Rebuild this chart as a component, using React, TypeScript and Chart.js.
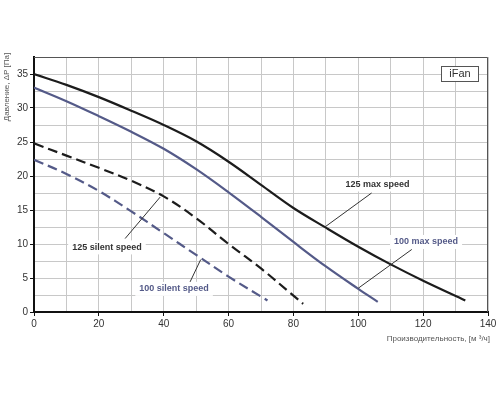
import React, { useEffect, useRef } from "react";
import { Chart, registerables } from "chart.js";

Chart.register(...registerables);

// Data (x: m³/h, y: Pa)
const max125X = [0, 10, 20, 30, 40, 50, 60, 70, 80, 90, 100, 110, 120, 133];
const max125Y = [35, 33.4, 31.6, 29.6, 27.5, 25.1, 22.1, 18.7, 15.3, 12.4, 9.6, 7.0, 4.6, 1.7];
const max100X = [0, 10, 20, 30, 40, 50, 60, 70, 80, 90, 100, 106];
const max100Y = [33, 31, 28.8, 26.5, 24, 21, 17.6, 14, 10.3, 6.7, 3.4, 1.5];
const silent125X = [0, 10, 20, 30, 40, 50, 60, 70, 80, 83];
const silent125Y = [24.8, 23, 21.2, 19.3, 17, 13.8, 10, 6.4, 2.4, 1.2];
const silent100X = [0, 10, 20, 30, 40, 50, 60, 72];
const silent100Y = [22.4, 20.3, 17.8, 14.8, 11.6, 8.4, 5.2, 1.7];

const seriesLabels = ["125 max speed", "100 max speed", "125 silent speed", "100 silent speed"];
const seriesColors = ["#1c1c1c", "#545a88", "#1c1c1c", "#545a88"];
const labelColors = ["#333333", "#545a88", "#333333", "#545a88"];
// annotation: tip on curve, elbow end of leader, text centre (data units)
const tipX = [89.7, 100, 38.9, 51.4];
const tipY = [12.5, 3.5, 16.9, 7.7];
const endX = [104.1, 116.5, 28.1, 48.1];
const endY = [17.5, 9.2, 10.8, 4.4];
const textX = [105.9, 120.9, 22.5, 43.2];
const textY = [18.75, 10.3, 9.5, 3.4];

const xTitle = "Производительность, [м ³/ч]";
const yTitle = "Давление, ΔP [Па]";
const badge = "iFan";

const toPts = (xs: number[], ys: number[]) => xs.map((x, i) => ({ x, y: ys[i] }));

const FONT = "'Liberation Sans', Arial, sans-serif";

const decorPlugin = {
  id: "decor",
  beforeDatasetsDraw(chart: any) {
    const { ctx, chartArea: a } = chart;
    ctx.save();
    ctx.strokeStyle = "#555";
    ctx.lineWidth = 1;
    ctx.beginPath();
    ctx.moveTo(a.left, a.top + 0.5);
    ctx.lineTo(a.right - 0.5, a.top + 0.5);
    ctx.lineTo(a.right - 0.5, a.bottom);
    ctx.stroke();
    ctx.restore();
  },
  afterDatasetsDraw(chart: any) {
    const { ctx, chartArea: a, scales } = chart;
    const xs = scales.x;
    const ys = scales.y;
    ctx.save();
    // leaders
    for (let i = 0; i < seriesLabels.length; i++) {
      ctx.strokeStyle = "#333";
      ctx.lineWidth = 1;
      ctx.beginPath();
      ctx.moveTo(xs.getPixelForValue(tipX[i]), ys.getPixelForValue(tipY[i]));
      ctx.lineTo(xs.getPixelForValue(endX[i]), ys.getPixelForValue(endY[i]));
      ctx.stroke();
    }
    ctx.font = `bold 9px ${FONT}`;
    ctx.textAlign = "center";
    ctx.textBaseline = "middle";
    for (let i = 0; i < seriesLabels.length; i++) {
      const tx = xs.getPixelForValue(textX[i]);
      const ty = ys.getPixelForValue(textY[i]);
      const w = ctx.measureText(seriesLabels[i]).width;
      ctx.fillStyle = "#fff";
      ctx.fillRect(tx - w / 2 - 4, ty - 7, w + 8, 14);
      ctx.fillStyle = labelColors[i];
      ctx.fillText(seriesLabels[i], tx, ty);
    }
    // badge
    const bx = a.right - 47;
    const by = a.top + 9;
    ctx.fillStyle = "#fff";
    ctx.fillRect(bx, by, 37, 15);
    ctx.strokeStyle = "#555";
    ctx.strokeRect(bx + 0.5, by + 0.5, 37, 15);
    ctx.fillStyle = "#333";
    ctx.font = `11px ${FONT}`;
    ctx.fillText(badge, bx + 19, by + 8);
    // axis titles
    ctx.font = `8px ${FONT}`;
    ctx.fillStyle = "#555";
    ctx.textAlign = "right";
    ctx.fillText(xTitle, 490, 339);
    ctx.translate(7, 87);
    ctx.rotate(-Math.PI / 2);
    ctx.textAlign = "center";
    ctx.fillText(yTitle, 0, 0);
    ctx.restore();
  },
};

export default function App() {
  const ref = useRef<HTMLCanvasElement>(null);
  useEffect(() => {
    if (!ref.current) return;
    const mk = (i: number, xs: number[], ys: number[], dashed: boolean) => ({
      label: seriesLabels[i],
      data: toPts(xs, ys),
      borderColor: seriesColors[i],
      backgroundColor: seriesColors[i],
      borderWidth: 2.2,
      borderDash: dashed ? [10, 5] : [],
      pointRadius: 0,
      tension: 0.35,
      fill: false,
    });
    const chart = new Chart(ref.current, {
      type: "line",
      data: {
        datasets: [
          mk(0, max125X, max125Y, false),
          mk(1, max100X, max100Y, false),
          mk(2, silent125X, silent125Y, true),
          mk(3, silent100X, silent100Y, true),
        ],
      },
      options: {
        responsive: false,
        animation: false,
        layout: { padding: { top: 57, right: 12, left: 0, bottom: 0 } },
        plugins: { legend: { display: false }, tooltip: { enabled: false } },
        scales: {
          x: {
            type: "linear",
            min: 0,
            max: 140,
            ticks: {
              stepSize: 10,
              padding: 2,
              maxRotation: 0,
              autoSkip: false,
              color: "#333",
              font: { family: FONT, size: 10 },
              callback: (v: any) => (Number(v) % 20 === 0 ? String(v) : ""),
            },
            grid: {
              color: "#c8c8c8",
              lineWidth: 1,
              tickLength: 4,
              tickColor: (c: any) => (c.tick && c.tick.value % 20 === 0 ? "#111" : "rgba(0,0,0,0)"),
            },
            border: { color: "#111", width: 2 },
            afterFit: (s: any) => {
              s.height = 88;
            },
          },
          y: {
            type: "linear",
            min: 0,
            max: 37.5,
            ticks: {
              stepSize: 2.5,
              padding: 2,
              autoSkip: false,
              color: "#333",
              font: { family: FONT, size: 10 },
              callback: (v: any) => (Number(v) % 5 === 0 ? String(v) : ""),
            },
            grid: {
              color: "#c8c8c8",
              lineWidth: 1,
              tickLength: 4,
              tickColor: (c: any) => (c.tick && c.tick.value % 5 === 0 ? "#111" : "rgba(0,0,0,0)"),
            },
            border: { color: "#111", width: 2 },
            afterFit: (s: any) => {
              s.width = 34;
            },
          },
        },
      },
      plugins: [decorPlugin],
    });
    return () => chart.destroy();
  }, []);
  return (
    <div style={{ position: "absolute", left: 0, top: 0, width: 500, height: 400, background: "#fff" }}>
      <canvas ref={ref} width={500} height={400} />
    </div>
  );
}
